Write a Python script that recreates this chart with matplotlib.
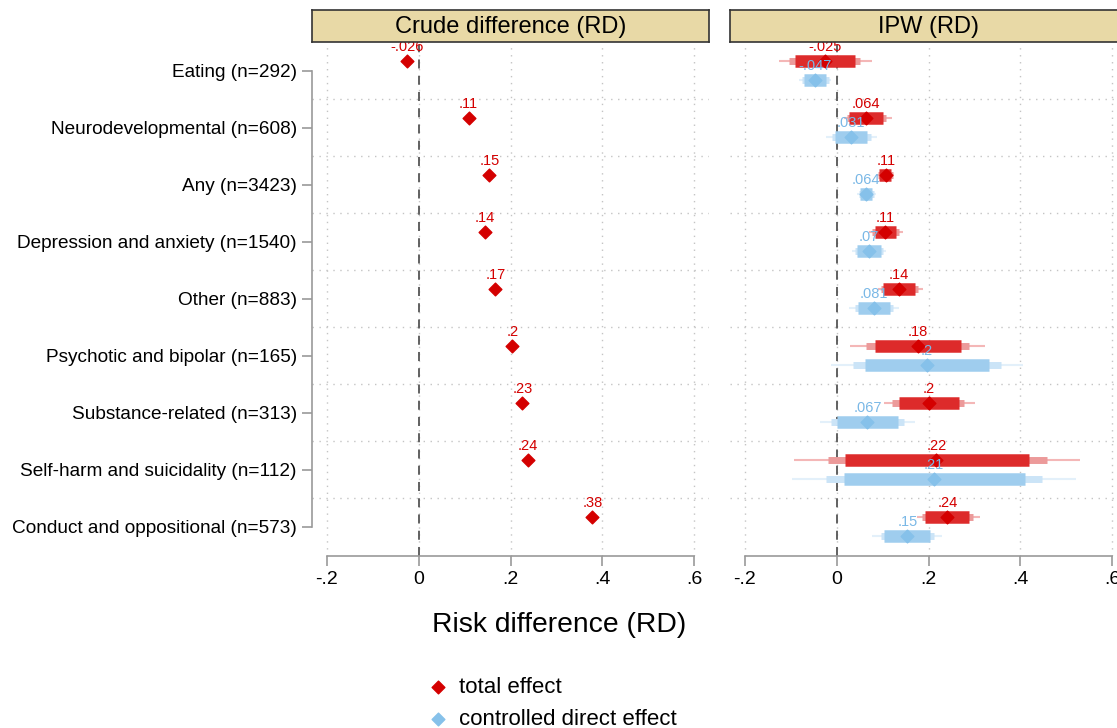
import numpy as np
import matplotlib
matplotlib.use("Agg")
import matplotlib.pyplot as plt

plt.rcParams['font.family'] = ['Liberation Sans', 'DejaVu Sans']

categories = ["Eating (n=292)", "Neurodevelopmental (n=608)", "Any (n=3423)",
              "Depression and anxiety (n=1540)", "Other (n=883)",
              "Psychotic and bipolar (n=165)", "Substance-related (n=313)",
              "Self-harm and suicidality (n=112)", "Conduct and oppositional (n=573)"]

crude = [-0.026, 0.109, 0.154, 0.144, 0.167, 0.204, 0.226, 0.238, 0.378]

# IPW total effect: estimate, inner / middle / outer intervals
te = [-0.025, 0.064, 0.108, 0.106, 0.136, 0.177, 0.201, 0.217, 0.241]
te_lo1 = [-0.091, 0.027, 0.093, 0.083, 0.101, 0.083, 0.136, 0.018, 0.193]
te_hi1 = [0.041, 0.101, 0.119, 0.130, 0.170, 0.271, 0.266, 0.418, 0.288]
te_lo2 = [-0.104, 0.022, 0.090, 0.078, 0.096, 0.065, 0.121, -0.019, 0.186]
te_hi2 = [0.052, 0.108, 0.122, 0.136, 0.177, 0.288, 0.278, 0.457, 0.296]
te_lo3 = [-0.125, 0.016, 0.087, 0.070, 0.090, 0.030, 0.103, -0.093, 0.175]
te_hi3 = [0.078, 0.121, 0.126, 0.145, 0.188, 0.324, 0.302, 0.530, 0.313]

# IPW controlled direct effect
cde = [-0.047, 0.031, 0.064, 0.070, 0.081, 0.197, 0.067, 0.212, 0.154]
cde_lo1 = [-0.070, -0.004, 0.051, 0.045, 0.046, 0.062, 0.000, 0.016, 0.104]
cde_hi1 = [-0.022, 0.067, 0.078, 0.096, 0.116, 0.331, 0.134, 0.409, 0.204]
cde_lo2 = [-0.076, -0.009, 0.048, 0.040, 0.041, 0.036, -0.013, -0.022, 0.096]
cde_hi2 = [-0.017, 0.074, 0.081, 0.101, 0.123, 0.357, 0.146, 0.447, 0.213]
cde_lo3 = [-0.082, -0.024, 0.045, 0.034, 0.027, -0.013, -0.036, -0.096, 0.078]
cde_hi3 = [-0.012, 0.087, 0.085, 0.108, 0.135, 0.406, 0.170, 0.520, 0.230]

xticks = [-0.2, 0, 0.2, 0.4, 0.6]
xticklabels = ["-.2", "0", ".2", ".4", ".6"]

RED = "#d40000"
BLUE = "#86c1ea"
W, H = 1117, 728


def fmt(v):
    return f"{v:.2g}".replace("0.", ".")


def px_axes(x0, y0, x1, y1):
    return fig.add_axes([x0 / W, 1 - y1 / H, (x1 - x0) / W, (y1 - y0) / H])


fig = plt.figure(figsize=(W / 100, H / 100), dpi=100)

ypos = np.arange(1, len(categories) + 1)
panels = [px_axes(312, 45, 709, 556), px_axes(730, 45, 1127, 556)]
titles = ["Crude difference (RD)", "IPW (RD)"]

for ax, title, x0 in zip(panels, titles, [312, 730]):
    ax.set_xlim(-0.232, 0.632)
    ax.set_ylim(9.509, 0.544)
    for g in xticks:
        ax.axvline(g, color="#c4c4c4", lw=1.0, ls=(0, (1, 4)), zorder=0)
    for g in ypos[:-1] + 0.5:
        ax.axhline(g, color="#c4c4c4", lw=1.0, ls=(0, (1, 4)), zorder=0)
    ax.axvline(0, color="#555555", lw=1.3, ls=(0, (5, 4)), zorder=1)
    ax.set_xticks(xticks)
    ax.set_xticklabels(xticklabels, fontsize=14)
    ax.tick_params(axis="x", length=7, width=1.2, color="#999999", pad=4)
    ax.spines["bottom"].set_bounds(-0.2, 0.6)
    ax.spines["bottom"].set_color("#999999")
    ax.spines["bottom"].set_linewidth(1.2)
    for s in ["top", "right"]:
        ax.spines[s].set_visible(False)
    sax = px_axes(x0, 10, x0 + 397, 42)
    sax.set_facecolor("#e8d9a6")
    sax.set_xticks([])
    sax.set_yticks([])
    for s in sax.spines.values():
        s.set_color("#333333")
        s.set_linewidth(1.2)
    sax.text(0.5, 0.47, title, ha="center", va="center", fontsize=17, transform=sax.transAxes)

ax1, ax2 = panels
ax1.set_yticks(ypos)
ax1.set_yticklabels(categories, fontsize=13.7)
ax1.tick_params(axis="y", length=7, width=1.2, color="#999999", pad=4)
ax1.spines["left"].set_bounds(1, 9)
ax1.spines["left"].set_color("#999999")
ax1.spines["left"].set_linewidth(1.2)
ax2.set_yticks([])
ax2.spines["left"].set_visible(False)

# crude panel
yc = ypos - 0.17
h_te = ax1.scatter(crude, yc, marker="D", s=42, color=RED, zorder=4)
for v, y in zip(crude, yc):
    ax1.annotate(fmt(v), (v, y), xytext=(0, 5), textcoords="offset points",
                 ha="center", va="bottom", fontsize=10.5, color=RED, zorder=5)

# IPW panel
yr = ypos - 0.175
yb = ypos + 0.16
ax2.hlines(yr, te_lo3, te_hi3, color="#f4b7b7", lw=1.5, zorder=2)
ax2.hlines(yr, te_lo2, te_hi2, color="#ec9a9a", lw=5, zorder=2)
ax2.hlines(yr, te_lo1, te_hi1, color="#dd2b2b", lw=9, zorder=3)
ax2.scatter(te, yr, marker="D", s=42, color=RED, zorder=4)
ax2.hlines(yb, cde_lo3, cde_hi3, color="#e3f0fa", lw=1.5, zorder=2)
ax2.hlines(yb, cde_lo2, cde_hi2, color="#cbe4f7", lw=5, zorder=2)
ax2.hlines(yb, cde_lo1, cde_hi1, color="#9fcdee", lw=9, zorder=3)
h_cde = ax2.scatter(cde, yb, marker="D", s=42, color=BLUE, zorder=4)
for v, y in zip(te, yr):
    ax2.annotate(fmt(v), (v, y), xytext=(0, 5), textcoords="offset points",
                 ha="center", va="bottom", fontsize=10.5, color=RED, zorder=5)
for v, y in zip(cde, yb):
    ax2.annotate(fmt(v), (v, y), xytext=(0, 5), textcoords="offset points",
                 ha="center", va="bottom", fontsize=10.5, color="#7ab8e6", zorder=5)

fig.text(559 / W, 1 - 625 / H, "Risk difference (RD)", ha="center", va="center", fontsize=20.3)

fig.legend([h_te, h_cde], ["total effect", "controlled direct effect"],
           loc="upper left", bbox_to_anchor=(428 / W, 1 - 677 / H), frameon=False,
           fontsize=16, handletextpad=0.5, labelspacing=0.5, handlelength=0.9,
           borderpad=0, borderaxespad=0)

fig.savefig("out.png", dpi=100)
